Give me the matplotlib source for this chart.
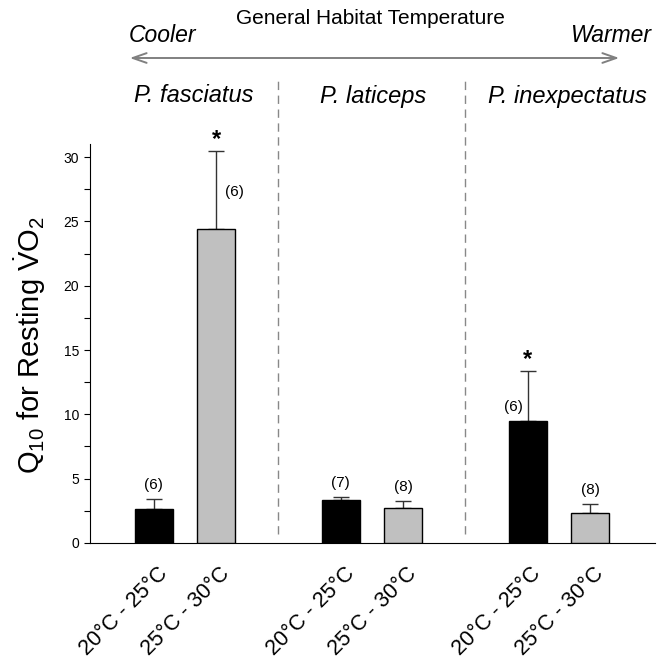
import matplotlib
matplotlib.use('Agg')
import matplotlib.pyplot as plt
from matplotlib.transforms import ScaledTranslation
from matplotlib.patches import FancyArrowPatch
import numpy as np

plt.rcParams['font.family'] = ['Liberation Sans', 'DejaVu Sans']
plt.rcParams['mathtext.fontset'] = 'custom'
plt.rcParams['mathtext.rm'] = 'Liberation Sans'
plt.rcParams['mathtext.it'] = 'Liberation Sans:italic'

# data
species = ['P. fasciatus', 'P. laticeps', 'P. inexpectatus']
ranges = ['20°C - 25°C', '25°C - 30°C'] * 3
q10 = [2.65, 24.45, 3.3, 2.72, 9.45, 2.33]
sem = [0.78, 6.05, 0.3, 0.55, 3.9, 0.7]
n = ['(6)', '(6)', '(7)', '(8)', '(6)', '(8)']
signif = [False, True, False, False, True, False]

pos = np.array([0, 1, 3, 4, 6, 7])
colors = ['black', '#c0c0c0'] * 3

fig = plt.figure(figsize=(6.6, 6.62), dpi=100)
ax = fig.add_axes([0.136, 0.180, 0.856, 0.602])

ax.bar(pos, q10, width=0.61, color=colors, edgecolor='black', linewidth=1.0, zorder=3)
ax.errorbar(pos, q10, yerr=[np.zeros(len(sem)), sem], fmt='none', ecolor='#333333',
            elinewidth=1.0, capsize=5.5, capthick=1.0, zorder=2)

# sample sizes and asterisks
for i, (x, v, e) in enumerate(zip(pos, q10, sem)):
    if i == 1:
        ax.text(x + 0.29, 27.3, n[i], ha='center', va='center', fontsize=11)
    elif i == 4:
        ax.text(x - 0.23, 10.6, n[i], ha='center', va='center', fontsize=11)
    else:
        ax.text(x, v + e + 1.05, n[i], ha='center', va='center', fontsize=11)
    if signif[i]:
        ax.text(x, v + e + 0.9, '*', ha='center', va='center', fontsize=17,
                fontweight='bold', clip_on=False)

# group separators
for xs in [2, 5]:
    ax.plot([xs, xs], [0.7, 36.3], color='#888888', linestyle=(0, (6, 4)),
            linewidth=1.0, clip_on=False)

ax.set_xlim(-1.03, 8.04)
ax.set_ylim(0, 31)
ax.set_yticks([0, 5, 10, 15, 20, 25, 30])
ax.set_yticks(np.arange(2.5, 30, 5), minor=True)
ax.tick_params(axis='y', which='both', direction='out', length=4, width=0.8, labelsize=10)
ax.set_xticks(pos)
ax.set_xticklabels(ranges, rotation=45, ha='right', va='top', rotation_mode='anchor',
                   fontsize=15.5)
ax.tick_params(axis='x', length=0, pad=15)
shift = ScaledTranslation(3 / 100, 0, fig.dpi_scale_trans)
for lab in ax.get_xticklabels():
    lab.set_transform(lab.get_transform() + shift)
ax.spines['top'].set_visible(False)
ax.spines['right'].set_visible(False)
ax.spines['left'].set_linewidth(0.8)
ax.spines['bottom'].set_linewidth(0.8)

fig.text(0.046, 0.479, r'Q$_{10}$ for Resting $\mathregular{\dot{V}O_2}$', rotation=90,
         ha='center', va='center', fontsize=21)

# header
def fy(py):
    return 1 - py / 662

fig.text(370 / 660, fy(19), 'General Habitat Temperature', ha='center', va='center', fontsize=15)
fig.text(162 / 660, fy(36), 'Cooler', ha='center', va='center', fontsize=16.5, style='italic')
fig.text(611 / 660, fy(36), 'Warmer', ha='center', va='center', fontsize=16.5, style='italic')
fig.patches.append(FancyArrowPatch(
    (127 / 660, fy(58)), (622 / 660, fy(58)), transform=fig.transFigure,
    arrowstyle='<->,head_length=10,head_width=3.5', color='#808080', linewidth=1.4))
for name, px in zip(species, [194, 373, 567]):
    fig.text(px / 660, fy(96), name, ha='center', va='center', fontsize=17, style='italic')

fig.savefig('out.png', dpi=100)
